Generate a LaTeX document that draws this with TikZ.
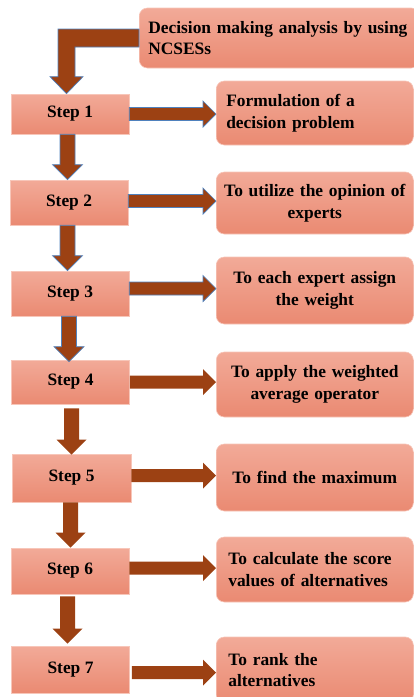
\documentclass[tikz,border=0pt]{standalone}
\usepackage{fontspec}
\setmainfont{Liberation Serif}
\usepackage{tikz}
\usetikzlibrary{calc}

\definecolor{boxtop}{HTML}{F2AA98}
\definecolor{boxbot}{HTML}{EA8A72}
\definecolor{boxedge}{HTML}{F7C6B9}
\definecolor{arrowbrown}{HTML}{9C4113}
\definecolor{arrowedge}{HTML}{4F81BD}

\tikzset{
  stepbox/.style={draw=boxedge, line width=0.6pt, top color=boxtop, bottom color=boxbot,
    minimum width=118pt, inner sep=0pt},
  notebox/.style={draw=boxedge, line width=0.6pt, top color=boxtop, bottom color=boxbot,
    rounded corners=8pt, anchor=west, minimum width=197pt, inner xsep=5.5pt,
    text width=186pt, align=center},
  noteleft/.style={notebox, inner xsep=10pt, text width=177pt, align=left},
  blockarrow/.style={fill=arrowbrown, draw=arrowedge, line width=0.7pt, line join=miter},
  plainarrow/.style={fill=arrowbrown, draw=none},
}

% block arrow pointing down, from (#2) to (#3)
\newcommand{\downblock}[3][blockarrow]{%
  \draw[#1] let \p1=(#2), \p2=(#3) in
    (\x1-7.5pt,\y1) -- (\x1-7.5pt,\y2+15pt) -- (\x1-15pt,\y2+15pt) -- (\x1,\y2)
    -- (\x1+15pt,\y2+15pt) -- (\x1+7.5pt,\y2+15pt) -- (\x1+7.5pt,\y1) -- cycle;}
% block arrow pointing right, from (#2) to (#3)
\newcommand{\rightblock}[3][blockarrow]{%
  \draw[#1] let \p1=(#2), \p2=(#3) in
    (\x1,\y1+6.5pt) -- (\x2-13pt,\y1+6.5pt) -- (\x2-13pt,\y1+13pt) -- (\x2,\y1)
    -- (\x2-13pt,\y1-13pt) -- (\x2-13pt,\y1-6.5pt) -- (\x1,\y1-6.5pt) -- cycle;}

\begin{document}
\begin{tikzpicture}[x=1pt, y=-1pt, font=\bfseries\fontsize{17.4}{21.5}\selectfont]
\useasboundingbox (0,0) rectangle (414,697);

\node (TOP) [noteleft, minimum height=60pt, inner xsep=9pt, text width=262pt] at (139,38)
  {Decision making analysis by using\\NCSESs};

\node (S1) [stepbox, minimum height=40pt] at (70,114) {Step 1};
\node (S2) [stepbox, minimum height=45pt] at (69,202.5) {Step 2};
\node (S3) [stepbox, minimum height=45pt] at (70,293.5) {Step 3};
\node (S4) [stepbox, minimum height=44pt] at (70.5,382) {Step 4};
\node (S5) [stepbox, minimum height=48pt, minimum width=119pt] at (71.5,478) {Step 5};
\node (S6) [stepbox, minimum height=46pt] at (70,571) {Step 6};
\node (S7) [stepbox, minimum height=47pt] at (70.5,669.5) {Step 7};

\node (R1) [noteleft, minimum height=64pt] at (216,113) {Formulation of a\\decision problem};
\node (R2) [notebox, minimum height=62pt] at (216,203) {To utilize the opinion of\\experts};
\node (R3) [notebox, minimum height=67pt] at (216,290.5) {To each expert assign\\the weight};
\node (R4) [notebox, minimum height=65pt] at (216,384.5) {To apply the weighted\\average operator};
\node (R5) [notebox, minimum height=67pt] at (216,477.5) {To find the maximum};
\node (R6) [noteleft, minimum height=65pt, inner xsep=12pt, text width=173pt] at (216,569.5)
  {To calculate the score\\values of alternatives};
\node (R7) [noteleft, minimum height=66pt, inner xsep=12pt, text width=173pt] at (216,670)
  {To rank the\\alternatives};

% bent arrow from the title box
\draw[blockarrow] let \p1=(TOP.west), \p2=([xshift=-3.5pt]S1.north) in
  (\x1,\y1+9pt) -- (\x2-8.5pt,\y1+9pt) -- (\x2-8.5pt,\y2+17pt) -- (\x2-16.5pt,\y2+17pt)
  -- (\x2,\y2) -- (\x2+16.5pt,\y2+17pt) -- (\x2+8.5pt,\y2+17pt) -- (\x2+8.5pt,\y1-9pt)
  -- (\x1,\y1-9pt) -- cycle;

% steps
\downblock{[xshift=-2.5pt]S1.south}{S2.north}
\downblock{[xshift=-1.5pt]S2.south}{S3.north}
\downblock{[xshift=-1pt]S3.south}{[yshift=-2pt]S4.north}
\downblock[plainarrow]{[xshift=1pt,yshift=-4pt]S4.south}{[yshift=-1pt]S5.north}
\downblock[plainarrow]{[xshift=-1pt]S5.south}{S6.north}
\downblock[plainarrow]{[xshift=-2.5pt,yshift=-2pt]S6.south}{[yshift=2pt]S7.north}

% to the notes
\rightblock{S1.east}{R1.west}
\rightblock{[yshift=1.5pt]S2.east}{R2.west}
\rightblock{[yshift=5pt]S3.east}{R3.west}
\rightblock[plainarrow]{S4.east}{R4.west}
\rightblock[plainarrow]{[yshift=2.5pt]S5.east}{R5.west}
\rightblock[plainarrow]{[yshift=3pt]S6.east}{R6.west}
\rightblock[plainarrow]{[xshift=2pt,yshift=-3pt]S7.east}{R7.west}
\end{tikzpicture}
\end{document}
